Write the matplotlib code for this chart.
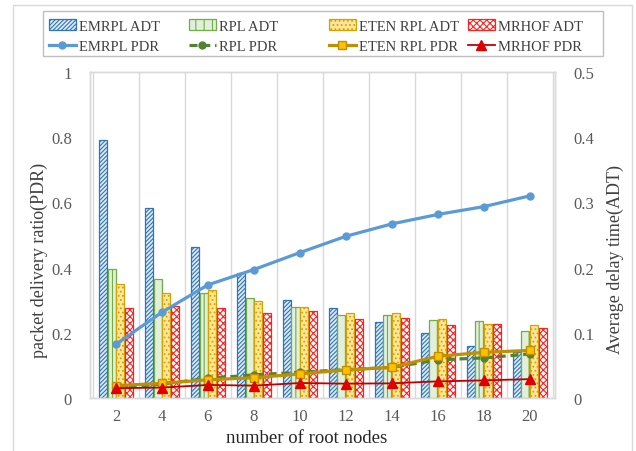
import matplotlib

matplotlib.use("Agg")
import matplotlib.pyplot as plt
from matplotlib.patches import Rectangle
import numpy as np

plt.rcParams["font.family"] = ["Liberation Serif", "DejaVu Serif"]
plt.rcParams["hatch.linewidth"] = 0.8

# --- data ---
roots = [2, 4, 6, 8, 10, 12, 14, 16, 18, 20]

emrpl_adt = [0.396, 0.291, 0.232, 0.191, 0.151, 0.138, 0.116, 0.100, 0.080, 0.070]
rpl_adt = [0.198, 0.183, 0.161, 0.154, 0.140, 0.127, 0.128, 0.119, 0.118, 0.103]
eten_adt = [0.175, 0.161, 0.165, 0.149, 0.140, 0.131, 0.131, 0.121, 0.113, 0.112]
mrhof_adt = [0.138, 0.141, 0.138, 0.130, 0.134, 0.121, 0.122, 0.112, 0.114, 0.108]

emrpl_pdr = [0.165, 0.263, 0.347, 0.394, 0.446, 0.496, 0.534, 0.563, 0.587, 0.620]
rpl_pdr = [0.030, 0.043, 0.060, 0.071, 0.079, 0.087, 0.094, 0.117, 0.123, 0.135]
eten_pdr = [0.038, 0.045, 0.056, 0.062, 0.074, 0.086, 0.094, 0.128, 0.140, 0.146]
mrhof_pdr = [0.030, 0.032, 0.040, 0.038, 0.046, 0.044, 0.045, 0.051, 0.054, 0.058]

left_ticks = [0, 0.2, 0.4, 0.6, 0.8, 1]
right_ticks = [0, 0.1, 0.2, 0.3, 0.4, 0.5]

tick_grey = "#595959"
W, H = 636, 452

fig = plt.figure(figsize=(W / 100, H / 100), dpi=100)
ax = fig.add_axes([90 / W, 1 - 399 / H, 465 / W, 326 / H])
ax2 = ax.twinx()

# bars go on the ADT axis, lines on the PDR axis drawn above them
ax.set_zorder(ax2.get_zorder() + 1)
ax.patch.set_visible(False)

x = np.array(roots, dtype=float)
w = 0.38
bar_styles = [
    ("EMRPL ADT", emrpl_adt, "#DEEBF7", "#2E75B6", "////////"),
    ("RPL ADT", rpl_adt, "#E2EFDA", "#70AD47", "||"),
    ("ETEN RPL ADT", eten_adt, "#FFE699", "#D4A300", "...."),
    ("MRHOF ADT", mrhof_adt, "white", "#FF2020", "xxxxx"),
]
bars = []
for i, (label, vals, fc, ec, hatch) in enumerate(bar_styles):
    b = ax2.bar(x + (i - 1.5) * w, vals, width=w * 0.92, facecolor=fc,
                edgecolor=ec, hatch=hatch, linewidth=0.9, label=label, zorder=2)
    bars.append(b)

# category separators
for edge in np.arange(1, 22, 2):
    ax2.axvline(edge, color="#D9D9D9", lw=1.0, zorder=0)

l1, = ax.plot(x, emrpl_pdr, color="#5B9BD5", lw=2.3, marker="o", ms=5,
              label="EMRPL PDR", zorder=5)
l2, = ax.plot(x, rpl_pdr, color="#548235", lw=2.3, ls=(0, (2.5, 1.5)),
              marker="o", ms=5, label="RPL PDR", zorder=4)
l3, = ax.plot(x, eten_pdr, color="#BF9000", lw=2.3, marker="s", ms=5.5,
              mfc="#FFC000", mec="#BF9000", label="ETEN RPL PDR", zorder=6)
l4, = ax.plot(x, mrhof_pdr, color="#C00000", lw=1.3, marker="^", ms=7,
              mfc="#E00000", mec="#E00000", label="MRHOF PDR", zorder=7)

ax.set_xlim(0.87, 21.1)
ax.set_ylim(0, 1)
ax2.set_ylim(0, 0.5)
ax.set_xticks(roots)
ax.set_yticks(left_ticks)
ax.set_yticklabels(["0", "0.2", "0.4", "0.6", "0.8", "1"])
ax2.set_yticks(right_ticks)
ax2.set_yticklabels(["0", "0.1", "0.2", "0.3", "0.4", "0.5"])

for a in (ax, ax2):
    a.tick_params(length=0, labelsize=12, labelcolor=tick_grey)
    for s in a.spines.values():
        s.set_color("#D9D9D9")
        s.set_linewidth(1.0)
ax.tick_params(axis="y", pad=13)
ax2.tick_params(axis="y", pad=13)
ax.tick_params(axis="x", pad=7)

ax.set_xlabel("number of root nodes", fontsize=13.5, color="#262626")
ax.xaxis.set_label_coords((307 - 90) / 465, -(430 - 399) / 326)
ax.set_ylabel("packet delivery ratio(PDR)", fontsize=13, color="#404040",
              va="center")
ax.yaxis.set_label_coords(-(90 - 39) / 465, (399 - 260) / 326)
ax2.set_ylabel("Average delay time(ADT)", fontsize=13, color="#404040",
               va="center")
ax2.yaxis.set_label_coords((615 - 90) / 465, (399 - 260) / 326)

# legend: four equally spaced columns (ADT bar over PDR line) in one frame
handles = [(bars[0], l1), (bars[1], l2), (bars[2], l3), (bars[3], l4)]
col_x = [49, 189, 329, 468]
for (hb, hl), cx in zip(handles, col_x):
    fig.legend([hb, hl], [hb.get_label(), hl.get_label()], loc="upper left",
               bbox_to_anchor=(cx / W, 1 - 20 / H), frameon=False,
               fontsize=10.5, borderpad=0, borderaxespad=0, handlelength=1.85,
               handleheight=0.8, handletextpad=0.2, labelspacing=0.45,
               labelcolor="#404040")
fig.patches.append(Rectangle((43 / W, 1 - 57 / H), 560 / W, 45 / H,
                             transform=fig.transFigure, fill=False,
                             edgecolor="#BFBFBF", lw=1.0))

# outer chart frame
fig.patches.append(Rectangle((13 / W, -0.02), 619 / W, 1 - 6 / H + 0.02,
                             transform=fig.transFigure, fill=False,
                             edgecolor="#D9D9D9", lw=1.0))

fig.savefig("out.png", dpi=100)
